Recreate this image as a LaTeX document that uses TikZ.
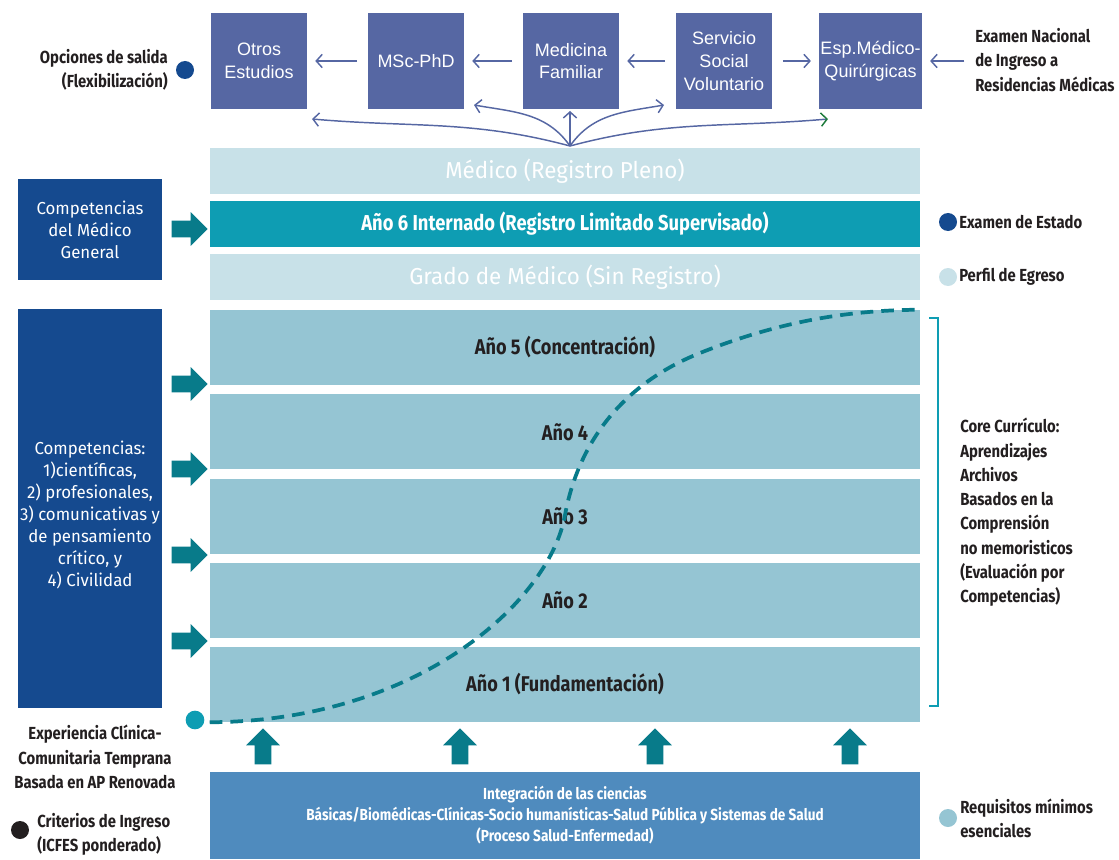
\documentclass[tikz,border=0pt]{standalone}
\usepackage{fontspec}
\usetikzlibrary{arrows.meta,shapes.arrows,positioning}
\setmainfont{Fira Sans}
\newfontfamily\arialfont{Liberation Sans}
\newfontfamily\condfont[FakeStretch=0.85]{Fira Sans}
\newfontfamily\myriadfont[FakeStretch=0.97]{Fira Sans}

\definecolor{azulsalida}{HTML}{5667A3}
\definecolor{azulosc}{HTML}{154A8F}
\definecolor{celeste}{HTML}{C8E1E8}
\definecolor{turquesa}{HTML}{0E9DB3}
\definecolor{franjaanio}{HTML}{95C5D3}
\definecolor{petroleo}{HTML}{087B8A}
\definecolor{azulbase}{HTML}{4F8BBE}
\definecolor{verdepunta}{HTML}{1E7B3C}
\definecolor{tinta}{HTML}{231F20}

\tikzset{
    salida/.style={fill=azulsalida, text=white, minimum width=72pt, minimum height=72pt,
        inner sep=1pt, align=center, font=\arialfont\fontsize{13.5}{17}\selectfont},
    flecha/.style={azulsalida, line width=1.1pt, -{Straight Barb[length=4.5pt,width=10pt]},
        shorten <=8pt, shorten >=6pt},
    franja/.style={minimum width=532.5pt, minimum height=34.5pt, inner sep=0pt},
    anio/.style={fill=franjaanio, text=tinta, minimum width=532.5pt, minimum height=56.25pt,
        inner sep=0pt, font=\condfont\bfseries\fontsize{16}{19}\selectfont},
    caja/.style={fill=azulosc, text=white, minimum width=108pt, align=center,
        font=\myriadfont\fontsize{13}{16.5}\selectfont},
    bloque/.style={single arrow, fill=petroleo, minimum height=27pt, minimum width=25pt,
        single arrow head extend=6.5pt, single arrow head indent=0pt, inner sep=6pt},
    etiqueta/.style={text=tinta, inner sep=0pt, font=\condfont\bfseries\fontsize{13.1}{18.2}\selectfont},
    punto/.style={circle, minimum size=13.5pt, inner sep=0pt},
}

\begin{document}
\begin{tikzpicture}[x=0.75pt, y=-0.75pt]
    \useasboundingbox (0,0) rectangle (1119,859);

    % opciones de salida
    \node[salida] (otros) at (259,61) {Otros\\Estudios};
    \node[salida] (msc) at (416,61) {MSc-PhD};
    \node[salida] (medfam) at (571,61) {Medicina\\Familiar};
    \node[salida] (servicio) at (724,61) {Servicio\\Social\\Voluntario};
    \node[salida] (esp) at (870.5,61) {Esp.Médico-\\Quirúrgicas};

    \draw[flecha] (msc) -- (otros);
    \draw[flecha] (medfam) -- (msc);
    \draw[flecha] (servicio) -- (medfam);
    \draw[flecha] (servicio) -- (esp);

    \node[etiqueta, align=left, anchor=west] (exnac) at (975,60)
        {Examen Nacional\\de Ingreso a\\Residencias Médicas};
    \draw[flecha] (exnac.west |- esp.east) -- (esp.east);

    \node[etiqueta, align=right, anchor=east] (opciones) at (168,70)
        {Opciones de salida\\(Flexibilización)};
    \node[punto, fill=azulosc] (popciones) at (185,70) {};

    % abanico
    \coordinate (fan) at (570,146);
    \coordinate (f1) at (312,119);
    \coordinate (f2) at (474,105);
    \coordinate (f3) at (570,111);
    \coordinate (f4) at (664,105);
    \coordinate (f5) at (828,119);
    \draw[flecha, shorten <=0pt, shorten >=0pt] (fan) to[out=165, in=-5] (f1);
    \draw[flecha, shorten <=0pt, shorten >=0pt] (fan) to[out=125, in=-10] (f2);
    \draw[flecha, shorten <=0pt, shorten >=0pt] (fan) -- (f3);
    \draw[flecha, shorten <=0pt, shorten >=0pt] (fan) to[out=55, in=190] (f4);
    \draw[azulsalida, line width=1.1pt, -{Straight Barb[length=4.5pt,width=10pt,color=verdepunta]}]
        (fan) to[out=15, in=185] (f5);

    % franjas superiores
    \node[franja, fill=celeste, text=white, font=\myriadfont\fontsize{17.3}{20}\selectfont] (medico) at (565,171)
        {Médico (Registro Pleno)};
    \node[franja, fill=turquesa, text=white, font=\condfont\bfseries\fontsize{16.2}{19}\selectfont] (anio6) at (565,224)
        {Año 6 Internado (Registro Limitado Supervisado)};
    \node[franja, fill=celeste, text=white, font=\myriadfont\fontsize{17.3}{20}\selectfont] (grado) at (565,277)
        {Grado de Médico (Sin Registro)};

    % anios
    \foreach \n/\txt in {5/Año 5 (Concentración), 4/Año 4, 3/Año 3, 2/Año 2, 1/Año 1 (Fundamentación)}
        \node[anio] (y\n) at (565,{347.5+(5-\n)*84.25}) {\txt};

    % competencias
    \node[caja, minimum height=75.75pt] (compmed) at (90,229.5)
        {Competencias\\del Médico\\General};
    \node[caja, minimum height=299.25pt] (comp) at (90,508.5) {};
    \node[text=white, align=center, font=\myriadfont\fontsize{13}{16.5}\selectfont] (comptxt) at (90,515)
        {Competencias:\\1)científicas,\\2) profesionales,\\3) comunicativas y\\de pensamiento\\crítico, y\\4) Civilidad};

    \node[bloque] (fm) at (185.5,229) {};
    \foreach \yy [count=\i] in {384,469,555,641}
        \node[bloque] (fl\i) at (185.5,\yy) {};

    % curva de experiencia clinica
    \node[punto, fill=turquesa, minimum size=14pt] (pexp) at (195,720) {};
    \draw[petroleo, line width=2.8pt, dash pattern=on 9.5pt off 6pt]
        (y1.south west) .. controls (420,721) and (550,600) .. (565,515)
        .. controls (578,445) and (620,385) .. (700,353)
        .. controls (780,321) and (850,310) .. (y5.north east);

    \node[etiqueta, align=center] (experiencia) at (95,757)
        {Experiencia Clínica-\\Comunitaria Temprana\\Basada en AP Renovada};

    % core curriculo
    \draw[turquesa, line width=2.2pt] (929,318) -- (938,318) -- (938,706) -- (929,706);
    \node[etiqueta, align=left, anchor=west] (core) at (960,512.5)
        {Core Currículo:\\Aprendizajes\\Archivos\\Basados en la\\Comprensión\\no memoristicos\\(Evaluación por\\Competencias)};

    % leyenda
    \node[punto, fill=azulosc] (pestado) at (948,222) {};
    \node[etiqueta, anchor=west] (estado) at (959,222) {Examen de Estado};
    \node[punto, fill=celeste] (pperfil) at (948,277) {};
    \node[etiqueta, anchor=west] (perfil) at (959,277) {Perfil de Egreso};
    \node[punto, fill=franjaanio] (preq) at (948,818) {};
    \node[etiqueta, align=left, anchor=west] (req) at (960,818) {Requisitos mínimos\\esenciales};

    % base de ciencias
    \node[fill=azulbase, text=white, minimum width=532.5pt, minimum height=65.25pt, inner sep=0pt,
        align=center, font=\condfont\bfseries\fontsize{12}{15.75}\selectfont] (base) at (565,815.5)
        {Integración de las ciencias\\Básicas/Biomédicas-Clínicas-Socio humanísticas-Salud Pública y Sistemas de Salud\\(Proceso Salud-Enfermedad)};
    \foreach \xx [count=\i] in {263,460,655,850}
        \node[bloque, shape border rotate=90] (fu\i) at (\xx,750.5) {};

    \node[punto, fill=tinta] (pingreso) at (20,830) {};
    \node[etiqueta, align=left, anchor=west] (ingreso) at (37,834)
        {Criterios de Ingreso\\(ICFES ponderado)};
\end{tikzpicture}
\end{document}
